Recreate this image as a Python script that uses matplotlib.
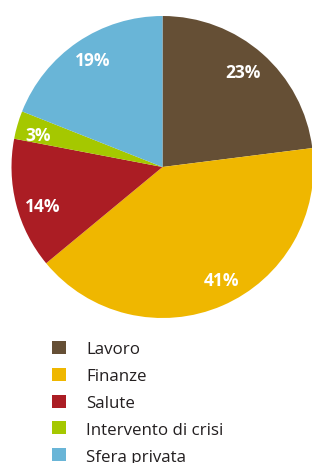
import matplotlib
matplotlib.use("Agg")
import matplotlib.pyplot as plt
from matplotlib.patches import Rectangle
from matplotlib.transforms import offset_copy

categories = ["Lavoro", "Finanze", "Salute", "Intervento di crisi", "Sfera privata"]
values = [23, 41, 14, 3, 19]
colors = ["#654F35", "#EFB700", "#AB1D24", "#A5C800", "#69B5D7"]

W, H = 312, 464
fig = plt.figure(figsize=(W / 100, H / 100), dpi=100)
fig.patch.set_facecolor("white")

cx, cy, r = 162.5, 168, 151
ax = fig.add_axes([(cx - r) / W, (H - cy - r) / H, 2 * r / W, 2 * r / H])
wedges, texts, autotexts = ax.pie(
    values, colors=colors, startangle=90, counterclock=False,
    autopct="%d%%", pctdistance=0.83,
    wedgeprops=dict(linewidth=0),
    textprops=dict(color="white", fontsize=12.5, fontweight="bold", family="Open Sans"),
)
ax.set_xlim(-1, 1)
ax.set_ylim(-1, 1)
ax.set_aspect("equal")
ax.axis("off")

# small label nudges (pixels, x right / y up) to match the reference placement
nudges = [(-2, 1), (9, 2), (2, -8), (-4, -3), (1, 3)]
for t, (nx, ny) in zip(autotexts, nudges):
    t.set_transform(offset_copy(ax.transData, fig=fig, x=nx, y=ny, units="dots"))

# legend drawn manually
y0, dy = 348.3, 26.85
for i, (lab, col) in enumerate(zip(categories, colors)):
    yc = y0 + i * dy
    fig.patches.append(Rectangle((52 / W, (H - yc - 6.5) / H), 14 / W, 13 / H,
                                 transform=fig.transFigure, facecolor=col, edgecolor="none"))
    fig.text(86 / W, (H - yc) / H, lab, ha="left", va="center_baseline",
             fontsize=12.2, color="#231F20", family="Open Sans")

fig.savefig("out.png", dpi=100)
